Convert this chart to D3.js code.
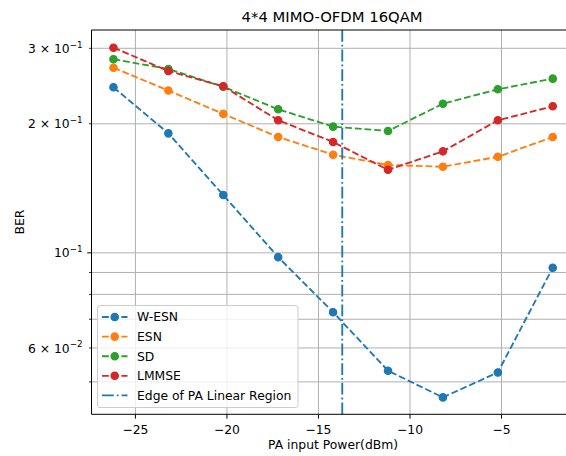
<!DOCTYPE html>
<html>
<head>
<meta charset="utf-8">
<script src="https://cdn.jsdelivr.net/npm/d3@7"></script>
<style>
  html, body { margin: 0; padding: 0; background: #fff; }
  svg { display: block; font-family: "DejaVu Sans", sans-serif; }
</style>
</head>
<body>
<svg id="chart" width="566" height="456"></svg>
<script>
// PA input power sweep (dBm)
const paPower = [-26.2, -23.2, -20.2, -17.2, -14.2, -11.2, -8.2, -5.2, -2.2];

// Bit error rate for each detector
const berWESN  = [0.2433, 0.190, 0.1364, 0.0977, 0.0727, 0.0531, 0.0460, 0.0526, 0.0923];
const berESN   = [0.2703, 0.2391, 0.2109, 0.1863, 0.1694, 0.1603, 0.1588, 0.1675, 0.1863];
const berSD    = [0.2829, 0.2685, 0.2440, 0.2162, 0.1970, 0.1924, 0.2228, 0.2407, 0.2549];
const berLMMSE = [0.3010, 0.2656, 0.2446, 0.2038, 0.1814, 0.1562, 0.1725, 0.2038, 0.2197];

const seriesNames = ["W-ESN", "ESN", "SD", "LMMSE"];
const seriesColors = ["#1f77b4", "#ff7f0e", "#2ca02c", "#d62728"];
const seriesValues = [berWESN, berESN, berSD, berLMMSE];

// Edge of the PA linear region (dBm)
const linearEdge = -13.7;
const linearEdgeLabel = "Edge of PA Linear Region";

// Axis ticks
const xTicks = [-25, -20, -15, -10, -5];
const yMajorTicks = [0.1];
const yMinorTicks = [0.05, 0.06, 0.07, 0.08, 0.09, 0.2, 0.3];
const yTickLabels = [
  { v: 0.3, mant: "3", exp: "−1" },
  { v: 0.2, mant: "2", exp: "−1" },
  { v: 0.1, mant: null, exp: "−1" },
  { v: 0.06, mant: "6", exp: "−2" }
];

const titleText = "4*4 MIMO-OFDM 16QAM";
const xLabelText = "PA input Power(dBm)";
const yLabelText = "BER";

// ---- layout ----
const svg = d3.select("#chart");
const plot = { left: 91.5, right: 574.7, top: 30, bottom: 414.3 };
const fs = 12.35;       // tick / label / legend text size
const fsTitle = 14.8;   // title text size

const x = d3.scaleLinear().domain([-27.4, -1.0]).range([plot.left, plot.right]);
const y = d3.scaleLog().domain([0.04201, 0.3310]).range([plot.bottom, plot.top]);

const gridColor = "#b0b0b0";
const dashLine = "6.8,2.9";
const dashDot = "11.8,3.0,1.8,3.0";

// ---- gridlines ----
const grid = svg.append("g");
xTicks.forEach(t => {
  grid.append("line")
    .attr("x1", x(t)).attr("x2", x(t))
    .attr("y1", plot.top).attr("y2", plot.bottom)
    .attr("stroke", gridColor).attr("stroke-width", 1);
});
yMajorTicks.concat(yMinorTicks).forEach(t => {
  grid.append("line")
    .attr("x1", plot.left).attr("x2", plot.right)
    .attr("y1", y(t)).attr("y2", y(t))
    .attr("stroke", gridColor).attr("stroke-width", 1);
});

// ---- series ----
const line = d3.line().x(d => x(d[0])).y(d => y(d[1]));
seriesValues.forEach((vals, i) => {
  const pts = paPower.map((p, j) => [p, vals[j]]);
  const g = svg.append("g");
  g.append("path")
    .attr("d", line(pts))
    .attr("fill", "none")
    .attr("stroke", seriesColors[i])
    .attr("stroke-width", 1.85)
    .attr("stroke-dasharray", dashLine);
  g.selectAll("circle").data(pts).join("circle")
    .attr("cx", d => x(d[0])).attr("cy", d => y(d[1]))
    .attr("r", 3.7)
    .attr("fill", seriesColors[i])
    .attr("stroke", seriesColors[i]).attr("stroke-width", 1.2);
});

// vertical marker for the linear region edge
svg.append("line")
  .attr("x1", x(linearEdge)).attr("x2", x(linearEdge))
  .attr("y1", plot.top).attr("y2", plot.bottom)
  .attr("stroke", seriesColors[0]).attr("stroke-width", 1.85)
  .attr("stroke-dasharray", dashDot);

// ---- spines ----
const spines = svg.append("g").attr("stroke", "#000").attr("stroke-width", 1);
spines.append("line").attr("x1", plot.left).attr("x2", plot.left).attr("y1", plot.top).attr("y2", plot.bottom);
spines.append("line").attr("x1", plot.left).attr("x2", plot.right).attr("y1", plot.bottom).attr("y2", plot.bottom);
spines.append("line").attr("x1", plot.left).attr("x2", plot.right).attr("y1", plot.top).attr("y2", plot.top);
spines.append("line").attr("x1", plot.right).attr("x2", plot.right).attr("y1", plot.top).attr("y2", plot.bottom);

// ---- x axis ----
const xAxis = svg.append("g");
xTicks.forEach(t => {
  xAxis.append("line")
    .attr("x1", x(t)).attr("x2", x(t))
    .attr("y1", plot.bottom).attr("y2", plot.bottom + 4.3)
    .attr("stroke", "#000").attr("stroke-width", 1);
  xAxis.append("text")
    .attr("x", x(t)).attr("y", plot.bottom + 19.8)
    .attr("text-anchor", "middle").attr("font-size", fs).attr("fill", "#000")
    .text(d3.format("d")(t));
});

// ---- y axis ----
const yAxis = svg.append("g");
yMajorTicks.forEach(t => {
  yAxis.append("line")
    .attr("x1", plot.left - 4.3).attr("x2", plot.left)
    .attr("y1", y(t)).attr("y2", y(t))
    .attr("stroke", "#000").attr("stroke-width", 1);
});
yMinorTicks.forEach(t => {
  yAxis.append("line")
    .attr("x1", plot.left - 2.5).attr("x2", plot.left)
    .attr("y1", y(t)).attr("y2", y(t))
    .attr("stroke", "#000").attr("stroke-width", 0.8);
});
yTickLabels.forEach(d => {
  const t = yAxis.append("text")
    .attr("x", plot.left - 8.8).attr("y", y(d.v) + 4.6)
    .attr("text-anchor", "end").attr("font-size", fs).attr("fill", "#000");
  if (d.mant !== null) {
    t.append("tspan").text(d.mant + " × 10");
  } else {
    t.append("tspan").text("10");
  }
  t.append("tspan").attr("dy", -5.2).attr("font-size", 8.8).text(d.exp);
});

// ---- labels ----
svg.append("text")
  .attr("x", (plot.left + plot.right) / 2 - 1).attr("y", 22)
  .attr("text-anchor", "middle").attr("font-size", fsTitle).attr("fill", "#000")
  .text(titleText);

svg.append("text")
  .attr("x", (plot.left + plot.right) / 2).attr("y", 449)
  .attr("text-anchor", "middle").attr("font-size", fs).attr("fill", "#000")
  .text(xLabelText);

svg.append("text")
  .attr("transform", `translate(24,${(plot.top + plot.bottom) / 2}) rotate(-90)`)
  .attr("text-anchor", "middle").attr("font-size", fs).attr("fill", "#000")
  .text(yLabelText);

// ---- legend ----
const legend = svg.append("g");
legend.append("rect")
  .attr("x", 97.5).attr("y", 305.5).attr("width", 200.5).attr("height", 102)
  .attr("rx", 2.5).attr("ry", 2.5)
  .attr("fill", "#fff").attr("fill-opacity", 0.8)
  .attr("stroke", "#cccccc").attr("stroke-width", 1);

const legendItems = seriesNames.map((n, i) => ({ name: n, color: seriesColors[i], marker: true, dash: dashLine }))
  .concat([{ name: linearEdgeLabel, color: seriesColors[0], marker: false, dash: dashDot }]);

legendItems.forEach((d, i) => {
  const cy = 317 + i * 19.6;
  legend.append("line")
    .attr("x1", 102).attr("x2", 127.5)
    .attr("y1", cy).attr("y2", cy)
    .attr("stroke", d.color).attr("stroke-width", 1.85)
    .attr("stroke-dasharray", d.dash);
  if (d.marker) {
    legend.append("circle")
      .attr("cx", 114.7).attr("cy", cy).attr("r", 3.7)
      .attr("fill", d.color).attr("stroke", d.color).attr("stroke-width", 1.2);
  }
  legend.append("text")
    .attr("x", 137).attr("y", cy + 4.4)
    .attr("font-size", fs).attr("fill", "#000")
    .text(d.name);
});
</script>
</body>
</html>
